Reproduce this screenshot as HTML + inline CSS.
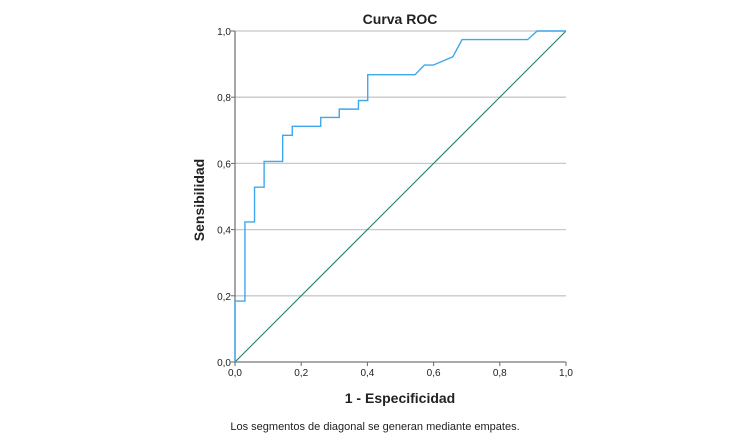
<!DOCTYPE html>
<html><head><meta charset="utf-8"><style>
body{margin:0;background:#fff;}
svg text{font-family:"Liberation Sans",Arial,sans-serif;}
</style></head><body>
<svg width="750" height="441" viewBox="0 0 750 441">
<text x="400" y="24" text-anchor="middle" font-size="14" font-weight="bold" fill="#222">Curva ROC</text>
<g id="grid"></g>
<g id="axes"></g>
<g id="series"></g>
<text x="400" y="403" text-anchor="middle" font-size="14" font-weight="bold" fill="#222">1 - Especificidad</text>
<text transform="translate(204,200) rotate(-90)" text-anchor="middle" font-size="14" font-weight="bold" fill="#222">Sensibilidad</text>
<text x="375" y="430" text-anchor="middle" font-size="11" fill="#222">Los segmentos de diagonal se generan mediante empates.</text>
</svg>
<script>
const ticks=[0,0.2,0.4,0.6,0.8,1.0];
const tickLabels=["0,0","0,2","0,4","0,6","0,8","1,0"];
const fpr=[0,0,0.03,0.03,0.059,0.059,0.088,0.088,0.144,0.144,0.173,0.173,0.259,0.259,0.315,0.315,0.373,0.373,0.401,0.401,0.544,0.572,0.599,0.658,0.686,0.884,0.913,1.0];
const tpr=[0,0.184,0.184,0.423,0.423,0.528,0.528,0.606,0.606,0.685,0.685,0.712,0.712,0.739,0.739,0.764,0.764,0.79,0.79,0.868,0.868,0.897,0.897,0.922,0.974,0.974,1.0,1.0];
const diag=[0,1];
const NS="http://www.w3.org/2000/svg";
const X=v=>235+v*331, Y=v=>362-v*331;
function mk(t,a,p){const e=document.createElementNS(NS,t);for(const k in a)e.setAttribute(k,a[k]);p.appendChild(e);return e;}
const grid=document.getElementById('grid'),axes=document.getElementById('axes'),series=document.getElementById('series');
ticks.forEach((t,i)=>{
  if(t>0){const g=mk('line',{x1:X(0),x2:X(1),y1:Y(t),y2:Y(t),stroke:'#c8c8c8','stroke-width':1.3},grid);
  
  }
  const yl=mk('text',{x:231,y:Y(t)+4,'text-anchor':'end','font-size':10,fill:'#222'},axes);yl.textContent=tickLabels[i];
  
  
  const xl=mk('text',{x:X(t),y:376,'text-anchor':'middle','font-size':10,fill:'#222'},axes);xl.textContent=tickLabels[i];
  
  
  mk('line',{x1:X(0)-4,x2:X(0),y1:Y(t),y2:Y(t),stroke:'#666'},axes);
  mk('line',{x1:X(t),x2:X(t),y1:Y(0),y2:Y(0)+4,stroke:'#666'},axes);
});
const ya=mk('line',{x1:X(0),x2:X(0),y1:Y(0),y2:Y(1),stroke:'#777','stroke-width':1.3},axes);


const xa=mk('line',{x1:X(0),x2:X(1),y1:Y(0),y2:Y(0),stroke:'#777','stroke-width':1.3},axes);


const d=mk('line',{x1:X(diag[0]),y1:Y(diag[0]),x2:X(diag[1]),y2:Y(diag[1]),stroke:'#1d7d70','stroke-width':1.1},series);


const c=mk('polyline',{points:fpr.map((f,i)=>X(f)+','+Y(tpr[i])).join(' '),fill:'none',stroke:'#3ea8ee','stroke-width':1.4},series);


</script>
</body></html>
